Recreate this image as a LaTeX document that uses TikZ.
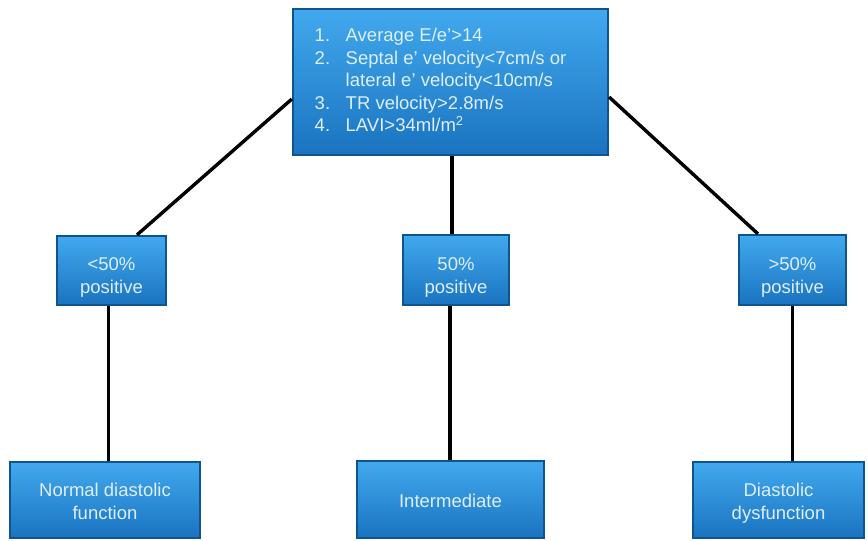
\documentclass[tikz,border=0pt]{standalone}
\usepackage{fontspec}
\setmainfont{Liberation Sans}
\definecolor{boxtop}{HTML}{42A9EE}
\definecolor{boxbot}{HTML}{1A73BF}
\definecolor{boxborder}{HTML}{0E5590}
\definecolor{boxtext}{HTML}{DDEEFC}
\newcommand\lowtext[2]{\raisebox{-#1}[\height][\depth]{\begin{tabular}{@{}c@{}}#2\end{tabular}}}
\tikzset{
  box/.style={draw=boxborder, line width=2.2pt, top color=boxtop, bottom color=boxbot,
    text=boxtext, font=\fontsize{18.5}{23}\selectfont, align=center, inner sep=0pt},
  conn/.style={draw=black, line width=3.4pt}
}
\begin{document}
\begin{tikzpicture}[x=1pt,y=-1pt]
\useasboundingbox (0,0) rectangle (868,541);
\node[box, minimum width=315pt, minimum height=146pt, font=\fontsize{18.5}{22.5}\selectfont] (top) at (450.5,82)
 {\begin{tabular}{@{}p{31pt}@{}l@{}}
 1. & Average E/e'>14\\
 2. & Septal e' velocity<7cm/s or\\
    & lateral e' velocity<10cm/s\\
 3. & TR velocity>2.8m/s\\
 4. & LAVI>34ml/m\textsuperscript{2}
 \end{tabular}\hspace{20pt}};
\node[box, minimum width=109pt, minimum height=69pt] (m1) at (111.5,270.5) {\lowtext{7pt}{<50\%\\positive}};
\node[box, minimum width=106pt, minimum height=70pt] (m2) at (456,270) {\lowtext{7pt}{50\%\\positive}};
\node[box, minimum width=107pt, minimum height=70pt] (m3) at (792.5,270) {\lowtext{7pt}{>50\%\\positive}};
\node[box, minimum width=190pt, minimum height=76pt] (b1) at (105,500) {\lowtext{3pt}{Normal diastolic\\function}};
\node[box, minimum width=187pt, minimum height=77pt] (b2) at (450.5,499.5) {\lowtext{3pt}{Intermediate}};
\node[box, minimum width=171pt, minimum height=76pt] (b3) at (778.5,500) {\lowtext{3pt}{Diastolic\\dysfunction}};
\draw[conn] ([yshift=-17pt]top.west) -- ([xshift=25.5pt]m1.north);
\draw[conn] ([yshift=-15pt]top.east) -- ([xshift=-34.5pt]m3.north);
\draw[conn] ([xshift=1.5pt]top.south) -- ([xshift=1.5pt]top.south |- m2.north);
\draw[conn] ([xshift=-3pt]m1.south) -- ([xshift=-3pt]m1.south |- b1.north);
\draw[conn] ([xshift=-6pt]m2.south) -- ([xshift=-6pt]m2.south |- b2.north);
\draw[conn] (m3.south) -- (m3.south |- b3.north);
\end{tikzpicture}
\end{document}
